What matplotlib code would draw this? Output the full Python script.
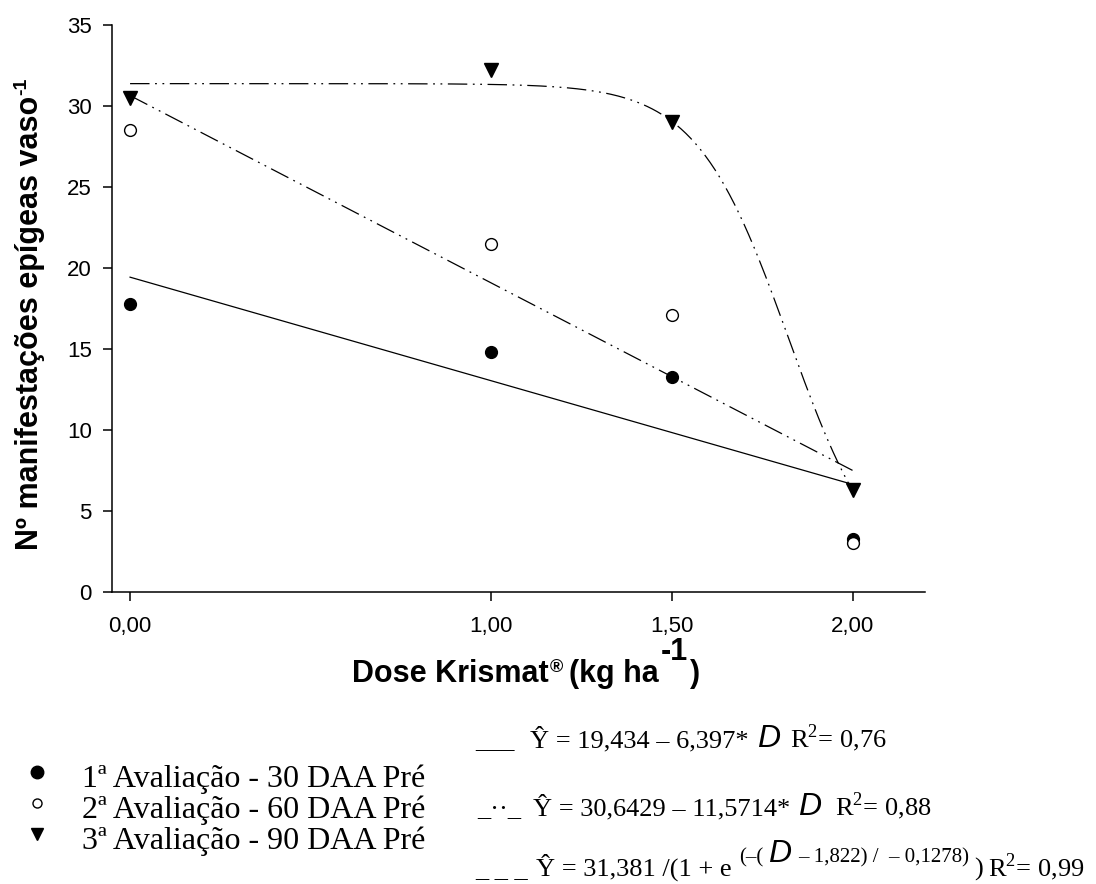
import matplotlib
matplotlib.use("Agg")
import matplotlib.pyplot as plt
from matplotlib.lines import Line2D
import numpy as np

plt.rcParams['font.family'] = ['Liberation Sans', 'DejaVu Sans']
plt.rcParams['mathtext.fontset'] = 'custom'
plt.rcParams['mathtext.rm'] = 'Liberation Serif'
plt.rcParams['mathtext.it'] = 'Liberation Sans:italic'
plt.rcParams['mathtext.bf'] = 'Liberation Sans:bold'
plt.rcParams['lines.scale_dashes'] = False

# data
doses = [0.0, 1.0, 1.5, 2.0]
dose_labels = ['0,00', '1,00', '1,50', '2,00']
aval_30 = [17.8, 14.8, 13.3, 3.3]
aval_60 = [28.5, 21.5, 17.1, 3.0]
aval_90 = [30.5, 32.2, 29.0, 6.3]
legend_labels = ['1ª Avaliação - 30 DAA Pré',
                 '2ª Avaliação - 60 DAA Pré',
                 '3ª Avaliação - 90 DAA Pré']

# fitted models printed under the chart
lin1 = (19.434, -6.397)
lin2 = (30.6429, -11.5714)
sig3 = (31.381, 1.822, -0.1278)

W, H = 1096, 884
fig = plt.figure(figsize=(W / 100, H / 100), dpi=100)
ax = fig.add_axes([112 / W, 1 - 592 / H, (925 - 112) / W, (592 - 25) / H])

ddot = (14, 4, 1.3, 4, 1.3, 4)
d = np.linspace(0, 2, 300)
ax.plot(d, lin1[0] + lin1[1] * d, color='black', lw=0.9)
ax.plot(d, lin2[0] + lin2[1] * d, color='black', lw=0.9, dashes=ddot)
ax.plot(d, sig3[0] / (1 + np.exp(-(d - sig3[1]) / sig3[2])),
        color='black', lw=0.9, dashes=ddot)

ax.plot(doses, aval_30, 'o', color='black', ms=8.5, zorder=3)
ax.plot(doses, aval_60, 'o', mfc='white', mec='black', mew=1.0, ms=8.5, zorder=3)
ax.plot(doses, aval_90, 'v', color='black', ms=9.5, zorder=3)

ax.set_xlim(-0.05, 2.2)
ax.set_ylim(0, 35)
ax.set_xticks(doses, dose_labels)
ax.set_yticks(range(0, 36, 5))
ax.spines['top'].set_visible(False)
ax.spines['right'].set_visible(False)
for s in ('left', 'bottom'):
    ax.spines[s].set_linewidth(1.1)
ax.tick_params(direction='out', length=6.5, width=1.1, labelsize=16)
ax.tick_params(axis='x', pad=11)
ax.tick_params(axis='y', pad=8)

renderer = fig.canvas.get_renderer()

# y label, with a small raised "-1"
ylab = fig.text(30 / W, 1 - 550 / H, 'Nº manifestações epígeas vaso',
                rotation=90, ha='center', va='bottom', fontsize=22, fontweight='bold')
top = ylab.get_window_extent(renderer).y1
fig.text(22 / W, (top + 1) / H, '-1', rotation=90, ha='center', va='bottom',
         fontsize=14, fontweight='bold')


def put_pieces(x, y, pieces):
    # x, y in pixels from top-left; each piece is (text, raise, gap after, font kwargs)
    for s, dy, gap, kw in pieces:
        t = fig.text(x / W, 1 - (y - dy) / H, s, ha='left', va='baseline', **kw)
        x += t.get_window_extent(renderer).width + gap


bold = dict(size=22, weight='bold')
put_pieces(352, 682, [
    ('Dose Krismat', 0, 1, bold),
    ('®', 10, 6, dict(size=13, weight='bold')),
    ('(kg ha', 0, 2, bold),
    ('-1', 22, 2, bold),
    (')', 0, 0, bold),
])

# legend
serif_leg = dict(family='Liberation Serif', size=23)
leg_y = [787, 818, 849]
fig.add_artist(Line2D([37 / W], [1 - 772 / H], transform=fig.transFigure,
                      marker='o', ms=9, color='black', ls='none'))
fig.add_artist(Line2D([37 / W], [1 - 803 / H], transform=fig.transFigure,
                      marker='o', ms=6.5, mfc='white', mec='black', mew=1, ls='none'))
fig.add_artist(Line2D([37 / W], [1 - 834 / H], transform=fig.transFigure,
                      marker='v', ms=9, color='black', ls='none'))
for lab, yy in zip(legend_labels, leg_y):
    fig.text(82 / W, 1 - yy / H, lab, va='baseline', ha='left', **serif_leg)

# equations
serif = dict(family='Liberation Serif', size=19)
small = dict(family='Liberation Serif', size=15)
dfont = dict(family='Liberation Sans', style='italic', size=23)
put_pieces(475, 747, [
    ('___', 0, 16, serif),
    ('Ŷ = 19,434 – 6,397*', 0, 8, serif),
    ('D', 0, 10, dfont),
    ('R$^2$= 0,76', 0, 0, serif),
])
put_pieces(477, 815, [
    ('_\u00b7\u00b7_', 0, 12, serif),
    ('Ŷ = 30,6429 – 11,5714*', 0, 8, serif),
    ('D', 0, 14, dfont),
    ('R$^2$= 0,88', 0, 0, serif),
])
put_pieces(475, 876, [
    ('_ _ _', 0, 8, serif),
    ('Ŷ = 31,381 /(1 + e', 0, 8, serif),
    ('(–(', 14, 5, small),
    ('D', 14, 6, dfont),
    ('– 1,822) /  – 0,1278)', 14, 6, small),
    (')', 0, 5, serif),
    ('R$^2$= 0,99', 0, 0, serif),
])

fig.savefig('out.png', dpi=100)
